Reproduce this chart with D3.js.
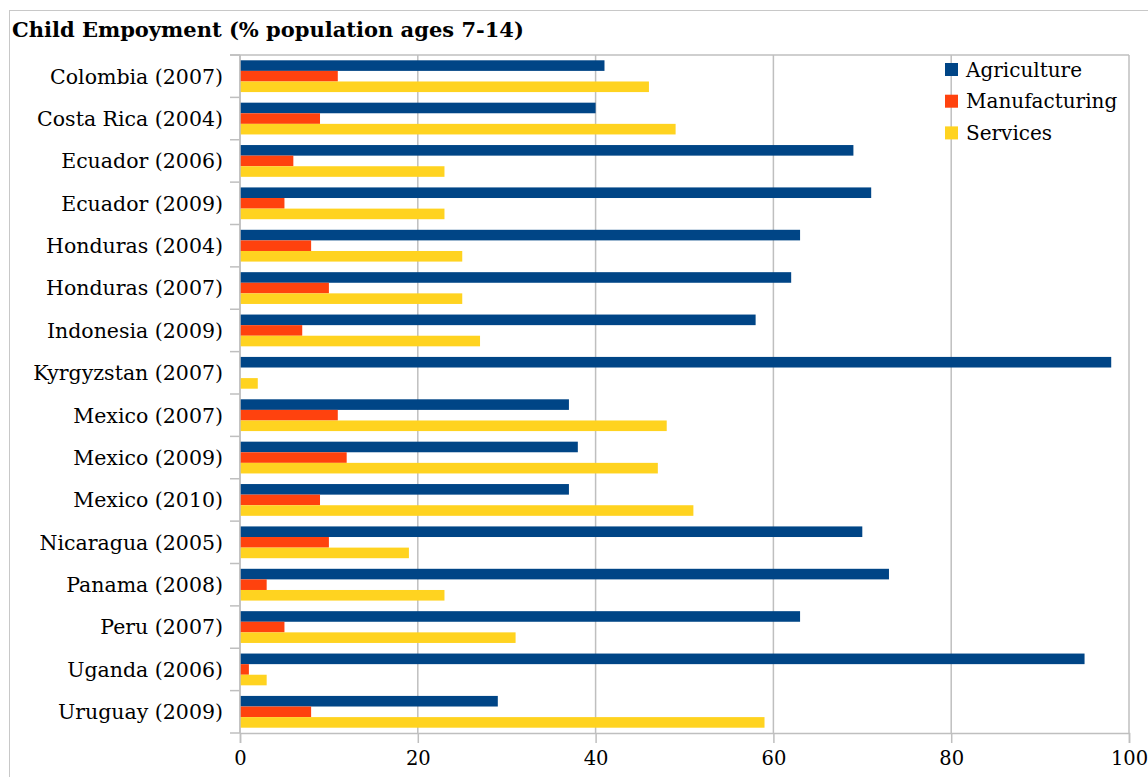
<!DOCTYPE html>
<html>
<head>
<meta charset="utf-8">
<script src="https://cdn.jsdelivr.net/npm/d3@7"></script>
<style>
  html, body { margin: 0; padding: 0; background: #fff; }
  svg { display: block; }
  text { font-family: "DejaVu Serif", "Liberation Serif", serif; fill: #000; }
</style>
</head>
<body>
<svg id="chart" width="1148" height="777"></svg>
<script>
// Child employment by sector, % of employed children aged 7-14
const categories = [
  "Colombia (2007)", "Costa Rica (2004)", "Ecuador (2006)", "Ecuador (2009)",
  "Honduras (2004)", "Honduras (2007)", "Indonesia (2009)", "Kyrgyzstan (2007)",
  "Mexico (2007)", "Mexico (2009)", "Mexico (2010)", "Nicaragua (2005)",
  "Panama (2008)", "Peru (2007)", "Uganda (2006)", "Uruguay (2009)"
];
const agriculture   = [41, 40, 69, 71, 63, 62, 58, 98, 37, 38, 37, 70, 73, 63, 95, 29];
const manufacturing = [11,  9,  6,  5,  8, 10,  7,  0, 11, 12,  9, 10,  3,  5,  1,  8];
const services      = [46, 49, 23, 23, 25, 25, 27,  2, 48, 47, 51, 19, 23, 31,  3, 59];
const seriesNames   = ["Agriculture", "Manufacturing", "Services"];
const seriesColors  = ["#004586", "#ff420e", "#ffd320"];
const xTickValues   = [0, 20, 40, 60, 80, 100];
const chartTitle    = "Child Empoyment (% population ages 7-14)";

const series = [agriculture, manufacturing, services];

const svg = d3.select("#chart");
const W = 1148, H = 777;
const plot = { left: 240, right: 1129, top: 55, bottom: 733 };
const gridColor = "#bfbfbf";

// outer frame of the chart object
svg.append("rect")
  .attr("x", 9.5).attr("y", 10.5)
  .attr("width", W + 20).attr("height", H + 20)
  .attr("fill", "none").attr("stroke", "#c8c8c8").attr("stroke-width", 1);

// title
svg.append("text")
  .attr("x", 12).attr("y", 37)
  .style("font-size", "21px").style("font-weight", "bold")
  .text(chartTitle);

const x = d3.scaleLinear().domain([0, 100]).range([plot.left, plot.right]);
const y = d3.scaleBand().domain(categories).range([plot.top, plot.bottom]).padding(0);
const sub = d3.scaleBand().domain(seriesNames)
  .range([y.bandwidth() * 0.125, y.bandwidth() * 0.875]).padding(0);

// vertical gridlines
svg.append("g").selectAll("line").data(xTickValues).join("line")
  .attr("x1", d => x(d)).attr("x2", d => x(d))
  .attr("y1", plot.top).attr("y2", plot.bottom)
  .attr("stroke", gridColor).attr("stroke-width", 1.5);

// top border of the plot area
svg.append("line")
  .attr("x1", plot.left - 10).attr("x2", plot.right)
  .attr("y1", plot.top).attr("y2", plot.top)
  .attr("stroke", gridColor).attr("stroke-width", 1.5);

// bars
const rows = svg.append("g").selectAll("g").data(categories).join("g")
  .attr("transform", c => `translate(0,${y(c)})`);
rows.selectAll("rect")
  .data((c, i) => seriesNames.map((s, k) => ({ s, k, v: series[k][i] })))
  .join("rect")
  .attr("x", x(0))
  .attr("y", d => sub(d.s))
  .attr("width", d => x(d.v) - x(0))
  .attr("height", sub.bandwidth())
  .attr("fill", d => seriesColors[d.k]);

// x axis
const xAxis = d3.axisBottom(x).tickValues(xTickValues).tickSize(10).tickPadding(8)
  .tickFormat(d3.format("d"));
const gx = svg.append("g").attr("transform", `translate(0,${plot.bottom})`).call(xAxis);
gx.select(".domain").attr("stroke", gridColor).attr("stroke-width", 1.5);
gx.selectAll(".tick line").attr("stroke", gridColor).attr("stroke-width", 1.5);
gx.selectAll(".tick text")
  .style("font-family", '"DejaVu Serif", serif').style("font-size", "19.5px").attr("fill", "#000");

// y axis: labels centred in each band, ticks at band boundaries
const boundaries = categories.map(c => y(c)).concat([plot.bottom]);
svg.append("g").selectAll("line").data(boundaries).join("line")
  .attr("x1", plot.left - 10).attr("x2", plot.left)
  .attr("y1", d => d).attr("y2", d => d)
  .attr("stroke", gridColor).attr("stroke-width", 1.5);
svg.append("line")
  .attr("x1", plot.left).attr("x2", plot.left)
  .attr("y1", plot.top).attr("y2", plot.bottom)
  .attr("stroke", gridColor).attr("stroke-width", 1.5);
svg.append("g").selectAll("text").data(categories).join("text")
  .attr("x", 223)
  .attr("y", c => y(c) + y.bandwidth() / 2)
  .attr("dy", "0.36em")
  .attr("text-anchor", "end")
  .style("font-size", "20.5px")
  .text(c => c);

// legend
const legend = svg.append("g").attr("transform", "translate(945,63)");
const li = legend.selectAll("g").data(seriesNames).join("g")
  .attr("transform", (d, i) => `translate(0,${i * 31.7})`);
li.append("rect").attr("width", 13).attr("height", 13)
  .attr("fill", (d, i) => seriesColors[i]);
li.append("text").attr("x", 21).attr("y", 6.5).attr("dy", "0.36em")
  .style("font-size", "20px").text(d => d);
</script>
</body>
</html>
